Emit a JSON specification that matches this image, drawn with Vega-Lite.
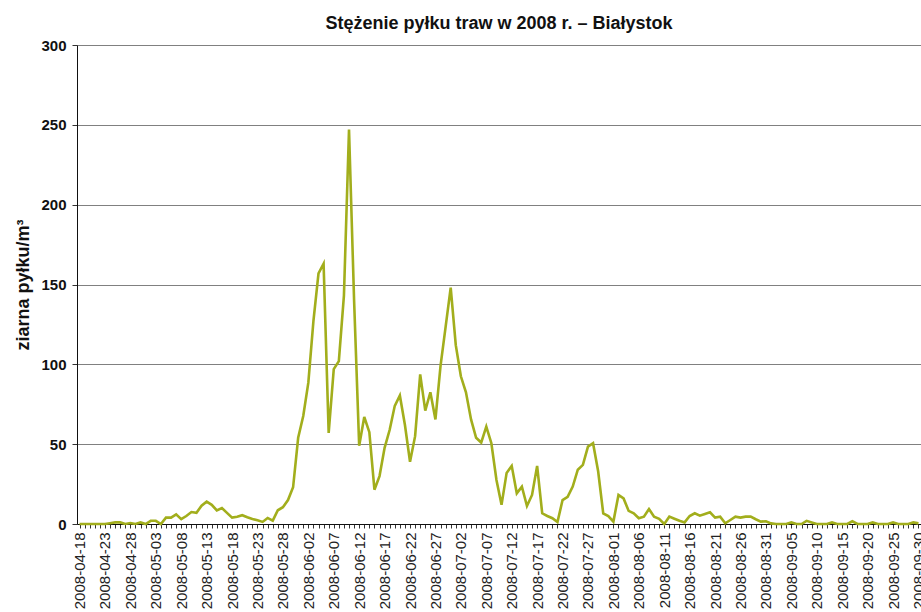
{
  "$schema": "https://vega.github.io/schema/vega-lite/v6.json",
  "width": 844,
  "height": 479,
  "autosize": "none",
  "padding": {"left": 77, "top": 45, "right": 0, "bottom": 88},
  "background": "white",
  "config": {"view": {"stroke": null}, "font": "Liberation Sans"},
  "title": {"text": "Stężenie pyłku traw w 2008 r. – Białystok", "font": "Liberation Sans", "fontSize": 18, "fontWeight": "bold", "color": "#111", "anchor": "middle", "offset": 5},
  "data": {"values": [
    {"d": "2008-04-18", "v": 0}, {"d": "2008-04-19", "v": 0}, {"d": "2008-04-20", "v": 0}, {"d": "2008-04-21", "v": 0}, {"d": "2008-04-22", "v": 0}, {"d": "2008-04-23", "v": 0}, {"d": "2008-04-24", "v": 0.5}, {"d": "2008-04-25", "v": 1}, {"d": "2008-04-26", "v": 1}, {"d": "2008-04-27", "v": 0}, {"d": "2008-04-28", "v": 0.6}, {"d": "2008-04-29", "v": 0}, {"d": "2008-04-30", "v": 1},
    {"d": "2008-05-01", "v": 0}, {"d": "2008-05-02", "v": 2}, {"d": "2008-05-03", "v": 2}, {"d": "2008-05-04", "v": 0}, {"d": "2008-05-05", "v": 4}, {"d": "2008-05-06", "v": 4}, {"d": "2008-05-07", "v": 6}, {"d": "2008-05-08", "v": 3}, {"d": "2008-05-09", "v": 5}, {"d": "2008-05-10", "v": 7.5}, {"d": "2008-05-11", "v": 7}, {"d": "2008-05-12", "v": 11.5}, {"d": "2008-05-13", "v": 14}, {"d": "2008-05-14", "v": 12}, {"d": "2008-05-15", "v": 8.5}, {"d": "2008-05-16", "v": 10}, {"d": "2008-05-17", "v": 7}, {"d": "2008-05-18", "v": 4}, {"d": "2008-05-19", "v": 4.5}, {"d": "2008-05-20", "v": 5.5}, {"d": "2008-05-21", "v": 4.2}, {"d": "2008-05-22", "v": 3.1}, {"d": "2008-05-23", "v": 2.3}, {"d": "2008-05-24", "v": 1.3}, {"d": "2008-05-25", "v": 3.8}, {"d": "2008-05-26", "v": 2.1}, {"d": "2008-05-27", "v": 8.6}, {"d": "2008-05-28", "v": 10.5}, {"d": "2008-05-29", "v": 15}, {"d": "2008-05-30", "v": 23}, {"d": "2008-05-31", "v": 54},
    {"d": "2008-06-01", "v": 67.6}, {"d": "2008-06-02", "v": 88.5}, {"d": "2008-06-03", "v": 127}, {"d": "2008-06-04", "v": 157}, {"d": "2008-06-05", "v": 163}, {"d": "2008-06-06", "v": 57}, {"d": "2008-06-07", "v": 97}, {"d": "2008-06-08", "v": 102}, {"d": "2008-06-09", "v": 143}, {"d": "2008-06-10", "v": 247}, {"d": "2008-06-11", "v": 140}, {"d": "2008-06-12", "v": 49}, {"d": "2008-06-13", "v": 67}, {"d": "2008-06-14", "v": 57.5}, {"d": "2008-06-15", "v": 21.5}, {"d": "2008-06-16", "v": 30}, {"d": "2008-06-17", "v": 47.7}, {"d": "2008-06-18", "v": 59}, {"d": "2008-06-19", "v": 74}, {"d": "2008-06-20", "v": 80.5}, {"d": "2008-06-21", "v": 62}, {"d": "2008-06-22", "v": 39}, {"d": "2008-06-23", "v": 55}, {"d": "2008-06-24", "v": 93.7}, {"d": "2008-06-25", "v": 71}, {"d": "2008-06-26", "v": 82.5}, {"d": "2008-06-27", "v": 65.5}, {"d": "2008-06-28", "v": 99}, {"d": "2008-06-29", "v": 123.5}, {"d": "2008-06-30", "v": 148},
    {"d": "2008-07-01", "v": 112}, {"d": "2008-07-02", "v": 92.5}, {"d": "2008-07-03", "v": 82.5}, {"d": "2008-07-04", "v": 65.5}, {"d": "2008-07-05", "v": 54}, {"d": "2008-07-06", "v": 51}, {"d": "2008-07-07", "v": 61}, {"d": "2008-07-08", "v": 50.6}, {"d": "2008-07-09", "v": 27.6}, {"d": "2008-07-10", "v": 12}, {"d": "2008-07-11", "v": 32}, {"d": "2008-07-12", "v": 36.4}, {"d": "2008-07-13", "v": 19.2}, {"d": "2008-07-14", "v": 23.4}, {"d": "2008-07-15", "v": 11.3}, {"d": "2008-07-16", "v": 18.2}, {"d": "2008-07-17", "v": 36.4}, {"d": "2008-07-18", "v": 6.7}, {"d": "2008-07-19", "v": 5}, {"d": "2008-07-20", "v": 3.6}, {"d": "2008-07-21", "v": 1.2}, {"d": "2008-07-22", "v": 15}, {"d": "2008-07-23", "v": 17}, {"d": "2008-07-24", "v": 23.4}, {"d": "2008-07-25", "v": 34}, {"d": "2008-07-26", "v": 37}, {"d": "2008-07-27", "v": 48.5}, {"d": "2008-07-28", "v": 50.6}, {"d": "2008-07-29", "v": 33}, {"d": "2008-07-30", "v": 6.7}, {"d": "2008-07-31", "v": 5},
    {"d": "2008-08-01", "v": 1.5}, {"d": "2008-08-02", "v": 18.2}, {"d": "2008-08-03", "v": 16}, {"d": "2008-08-04", "v": 8.2}, {"d": "2008-08-05", "v": 6.7}, {"d": "2008-08-06", "v": 3.6}, {"d": "2008-08-07", "v": 4.6}, {"d": "2008-08-08", "v": 9.4}, {"d": "2008-08-09", "v": 4.6}, {"d": "2008-08-10", "v": 3.3}, {"d": "2008-08-11", "v": 0}, {"d": "2008-08-12", "v": 4.6}, {"d": "2008-08-13", "v": 3.3}, {"d": "2008-08-14", "v": 2}, {"d": "2008-08-15", "v": 1}, {"d": "2008-08-16", "v": 5}, {"d": "2008-08-17", "v": 6.7}, {"d": "2008-08-18", "v": 5.2}, {"d": "2008-08-19", "v": 6.3}, {"d": "2008-08-20", "v": 7.3}, {"d": "2008-08-21", "v": 4}, {"d": "2008-08-22", "v": 4.6}, {"d": "2008-08-23", "v": 0.4}, {"d": "2008-08-24", "v": 2.5}, {"d": "2008-08-25", "v": 4.6}, {"d": "2008-08-26", "v": 4}, {"d": "2008-08-27", "v": 4.6}, {"d": "2008-08-28", "v": 4.6}, {"d": "2008-08-29", "v": 3}, {"d": "2008-08-30", "v": 1.5}, {"d": "2008-08-31", "v": 1.7},
    {"d": "2008-09-01", "v": 0.4}, {"d": "2008-09-02", "v": 0}, {"d": "2008-09-03", "v": 0}, {"d": "2008-09-04", "v": 0}, {"d": "2008-09-05", "v": 1}, {"d": "2008-09-06", "v": 0}, {"d": "2008-09-07", "v": 0}, {"d": "2008-09-08", "v": 2}, {"d": "2008-09-09", "v": 1}, {"d": "2008-09-10", "v": 0}, {"d": "2008-09-11", "v": 0}, {"d": "2008-09-12", "v": 0}, {"d": "2008-09-13", "v": 1}, {"d": "2008-09-14", "v": 0}, {"d": "2008-09-15", "v": 0}, {"d": "2008-09-16", "v": 0}, {"d": "2008-09-17", "v": 1.7}, {"d": "2008-09-18", "v": 0}, {"d": "2008-09-19", "v": 0}, {"d": "2008-09-20", "v": 0}, {"d": "2008-09-21", "v": 1}, {"d": "2008-09-22", "v": 0}, {"d": "2008-09-23", "v": 0}, {"d": "2008-09-24", "v": 0}, {"d": "2008-09-25", "v": 1}, {"d": "2008-09-26", "v": 0}, {"d": "2008-09-27", "v": 0}, {"d": "2008-09-28", "v": 0}, {"d": "2008-09-29", "v": 1}, {"d": "2008-09-30", "v": 0.4}
  ]},
  "mark": {"type": "line", "color": "#A2AE1C", "strokeWidth": 2.6, "strokeJoin": "miter", "clip": false},
  "encoding": {
    "x": {
      "field": "d", "type": "temporal",
      "scale": {"type": "utc", "domain": [{"year": 2008, "month": 4, "date": 17, "hours": 12, "utc": true}, {"year": 2008, "month": 9, "date": 30, "hours": 12, "utc": true}]},
      "axis": {
        "title": null,
        "tickCount": {"interval": "day", "step": 1},
        "labelExpr": "round((datum.value - utc(2008,3,18))/86400000) % 5 == 0 ? utcFormat(datum.value, '%Y-%m-%d') : ''",
        "labelAngle": 270,
        "labelFont": "Liberation Sans",
        "labelFontSize": 15,
        "labelColor": "#222",
        "labelPadding": 4,
        "labelOverlap": false,
        "labelFlush": false,
        "labelBound": false,
        "tickSize": 4,
        "tickColor": "#333",
        "domainColor": "#111",
        "domainWidth": 1,
        "grid": false
      }
    },
    "y": {
      "field": "v", "type": "quantitative",
      "scale": {"domain": [0, 300], "nice": false},
      "axis": {
        "title": "ziarna pyłku/m³",
        "titleFont": "Liberation Sans",
        "titleFontSize": 18,
        "titleFontWeight": "bold",
        "titleColor": "#111",
        "titlePadding": 8,
        "values": [0, 50, 100, 150, 200, 250, 300],
        "labelFont": "Liberation Sans",
        "labelFontSize": 15,
        "labelFontWeight": "bold",
        "labelColor": "#111",
        "labelPadding": 6,
        "tickSize": 5,
        "tickColor": "#333",
        "domainColor": "#111",
        "domainWidth": 1,
        "grid": true,
        "gridColor": "#808080",
        "gridWidth": 1
      }
    }
  }
}
